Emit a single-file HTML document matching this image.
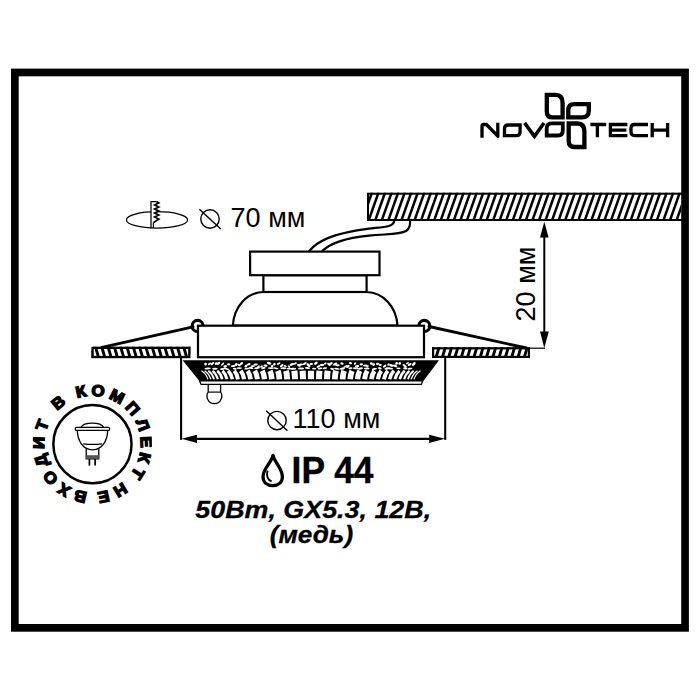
<!DOCTYPE html>
<html><head><meta charset="utf-8"><title>Novotech</title>
<style>
html,body{margin:0;padding:0;background:#fff;}
body{width:700px;height:700px;overflow:hidden;font-family:"Liberation Sans",sans-serif;}
svg{display:block;}
text{font-family:"Liberation Sans",sans-serif;fill:#000;}
</style></head><body>
<svg width="700" height="700" viewBox="0 0 700 700">
<rect x="0" y="0" width="700" height="700" fill="#fff"/>
<defs>
<clipPath id="cCeil"><rect x="367.1" y="192.8" width="314" height="28"/></clipPath>
<clipPath id="cFL"><rect x="91.5" y="346.7" width="98.9" height="11.3"/></clipPath>
<clipPath id="cFR"><rect x="432" y="347.2" width="98" height="10.5"/></clipPath>
<clipPath id="cRim"><path d="M184 361 L437.6 361 L423 380.4 L199.8 380.4 Z"/></clipPath>
<clipPath id="cBadge"><rect x="32.6" y="370" width="119.2" height="150"/></clipPath>
</defs>

<rect x="14.85" y="72.45" width="670.2" height="555.4" fill="none" stroke="#000" stroke-width="7.7"/>
<g clip-path="url(#cCeil)" stroke="#000" stroke-width="2.5" fill="none">
<line x1="355.00" y1="222" x2="365.60" y2="192"/>
<line x1="361.55" y1="222" x2="372.15" y2="192"/>
<line x1="368.10" y1="222" x2="378.70" y2="192"/>
<line x1="374.65" y1="222" x2="385.25" y2="192"/>
<line x1="381.20" y1="222" x2="391.80" y2="192"/>
<line x1="387.75" y1="222" x2="398.35" y2="192"/>
<line x1="394.30" y1="222" x2="404.90" y2="192"/>
<line x1="400.85" y1="222" x2="411.45" y2="192"/>
<line x1="407.40" y1="222" x2="418.00" y2="192"/>
<line x1="413.95" y1="222" x2="424.55" y2="192"/>
<line x1="420.50" y1="222" x2="431.10" y2="192"/>
<line x1="427.05" y1="222" x2="437.65" y2="192"/>
<line x1="433.60" y1="222" x2="444.20" y2="192"/>
<line x1="440.15" y1="222" x2="450.75" y2="192"/>
<line x1="446.70" y1="222" x2="457.30" y2="192"/>
<line x1="453.25" y1="222" x2="463.85" y2="192"/>
<line x1="459.80" y1="222" x2="470.40" y2="192"/>
<line x1="466.35" y1="222" x2="476.95" y2="192"/>
<line x1="472.90" y1="222" x2="483.50" y2="192"/>
<line x1="479.45" y1="222" x2="490.05" y2="192"/>
<line x1="486.00" y1="222" x2="496.60" y2="192"/>
<line x1="492.55" y1="222" x2="503.15" y2="192"/>
<line x1="499.10" y1="222" x2="509.70" y2="192"/>
<line x1="505.65" y1="222" x2="516.25" y2="192"/>
<line x1="512.20" y1="222" x2="522.80" y2="192"/>
<line x1="518.75" y1="222" x2="529.35" y2="192"/>
<line x1="525.30" y1="222" x2="535.90" y2="192"/>
<line x1="531.85" y1="222" x2="542.45" y2="192"/>
<line x1="538.40" y1="222" x2="549.00" y2="192"/>
<line x1="544.95" y1="222" x2="555.55" y2="192"/>
<line x1="551.50" y1="222" x2="562.10" y2="192"/>
<line x1="558.05" y1="222" x2="568.65" y2="192"/>
<line x1="564.60" y1="222" x2="575.20" y2="192"/>
<line x1="571.15" y1="222" x2="581.75" y2="192"/>
<line x1="577.70" y1="222" x2="588.30" y2="192"/>
<line x1="584.25" y1="222" x2="594.85" y2="192"/>
<line x1="590.80" y1="222" x2="601.40" y2="192"/>
<line x1="597.35" y1="222" x2="607.95" y2="192"/>
<line x1="603.90" y1="222" x2="614.50" y2="192"/>
<line x1="610.45" y1="222" x2="621.05" y2="192"/>
<line x1="617.00" y1="222" x2="627.60" y2="192"/>
<line x1="623.55" y1="222" x2="634.15" y2="192"/>
<line x1="630.10" y1="222" x2="640.70" y2="192"/>
<line x1="636.65" y1="222" x2="647.25" y2="192"/>
<line x1="643.20" y1="222" x2="653.80" y2="192"/>
<line x1="649.75" y1="222" x2="660.35" y2="192"/>
<line x1="656.30" y1="222" x2="666.90" y2="192"/>
<line x1="662.85" y1="222" x2="673.45" y2="192"/>
<line x1="669.40" y1="222" x2="680.00" y2="192"/>
<line x1="675.95" y1="222" x2="686.55" y2="192"/>
<line x1="682.50" y1="222" x2="693.10" y2="192"/>
<line x1="689.05" y1="222" x2="699.65" y2="192"/>
<line x1="695.60" y1="222" x2="706.20" y2="192"/>
</g>
<rect x="368" y="193.7" width="318" height="26.3" fill="none" stroke="#000" stroke-width="2"/>
<path d="M308.9 251.5 C318 240 335 233 369 228.6 C385 226.8 393 227 394.3 221" fill="none" stroke="#000" stroke-width="2.2"/>
<path d="M321.9 251.5 C330 243 345 238 369 235.6 C390 233.8 400 234.5 406 231 C410 228 410.1 225 410.1 221" fill="none" stroke="#000" stroke-width="2.2"/>
<circle cx="197.6" cy="325.9" r="5.5" fill="#fff" stroke="#000" stroke-width="3.1"/>
<circle cx="424.3" cy="325.9" r="5.5" fill="#fff" stroke="#000" stroke-width="3.1"/>
<line x1="193" y1="326.8" x2="102" y2="347.4" stroke="#000" stroke-width="2.9" stroke-linecap="round"/>
<line x1="429" y1="326.5" x2="526.5" y2="348" stroke="#000" stroke-width="2.9" stroke-linecap="round"/>
<g fill="#fff" stroke="#000" stroke-width="2.2" stroke-linejoin="miter">
<path d="M232.8 325.6 C234 306 247 292.5 263.4 292 L366.6 292 C383 292.5 396.3 306 397.5 325.6 Z"/>
<rect x="263.4" y="275.2" width="103.2" height="16.8"/>
<rect x="250.1" y="251.6" width="129.4" height="23.6"/>
<rect x="198" y="325.7" width="226" height="31.5"/>
</g>
<g clip-path="url(#cFL)" stroke="#000" stroke-width="2.9" fill="none">
<line x1="88.60" y1="345" x2="93.00" y2="360"/>
<line x1="94.90" y1="345" x2="99.30" y2="360"/>
<line x1="101.20" y1="345" x2="105.60" y2="360"/>
<line x1="107.50" y1="345" x2="111.90" y2="360"/>
<line x1="113.80" y1="345" x2="118.20" y2="360"/>
<line x1="120.10" y1="345" x2="124.50" y2="360"/>
<line x1="126.40" y1="345" x2="130.80" y2="360"/>
<line x1="132.70" y1="345" x2="137.10" y2="360"/>
<line x1="139.00" y1="345" x2="143.40" y2="360"/>
<line x1="145.30" y1="345" x2="149.70" y2="360"/>
<line x1="151.60" y1="345" x2="156.00" y2="360"/>
<line x1="157.90" y1="345" x2="162.30" y2="360"/>
<line x1="164.20" y1="345" x2="168.60" y2="360"/>
<line x1="170.50" y1="345" x2="174.90" y2="360"/>
<line x1="176.80" y1="345" x2="181.20" y2="360"/>
<line x1="183.10" y1="345" x2="187.50" y2="360"/>
<line x1="189.40" y1="345" x2="193.80" y2="360"/>
<line x1="195.70" y1="345" x2="200.10" y2="360"/>
</g>
<rect x="92.6" y="347.85" width="96.7" height="9.2" fill="none" stroke="#000" stroke-width="2.3"/>
<g clip-path="url(#cFR)" stroke="#000" stroke-width="2.9" fill="none">
<line x1="429.00" y1="360" x2="433.40" y2="345"/>
<line x1="435.30" y1="360" x2="439.70" y2="345"/>
<line x1="441.60" y1="360" x2="446.00" y2="345"/>
<line x1="447.90" y1="360" x2="452.30" y2="345"/>
<line x1="454.20" y1="360" x2="458.60" y2="345"/>
<line x1="460.50" y1="360" x2="464.90" y2="345"/>
<line x1="466.80" y1="360" x2="471.20" y2="345"/>
<line x1="473.10" y1="360" x2="477.50" y2="345"/>
<line x1="479.40" y1="360" x2="483.80" y2="345"/>
<line x1="485.70" y1="360" x2="490.10" y2="345"/>
<line x1="492.00" y1="360" x2="496.40" y2="345"/>
<line x1="498.30" y1="360" x2="502.70" y2="345"/>
<line x1="504.60" y1="360" x2="509.00" y2="345"/>
<line x1="510.90" y1="360" x2="515.30" y2="345"/>
<line x1="517.20" y1="360" x2="521.60" y2="345"/>
<line x1="523.50" y1="360" x2="527.90" y2="345"/>
<line x1="529.80" y1="360" x2="534.20" y2="345"/>
</g>
<rect x="433.1" y="348.3" width="95.8" height="8.6" fill="none" stroke="#000" stroke-width="2.2"/>
<path d="M182.6 360.2 L439 360.2 L423.4 381 L199.4 381 Z" fill="#000"/>
<g clip-path="url(#cRim)">
<ellipse cx="205.6" cy="364.1" rx="1.4" ry="1.3" transform="rotate(-37 205.6 364.1)" fill="#fff"/>
<ellipse cx="209.5" cy="363.8" rx="1.8" ry="0.9" transform="rotate(-37 209.5 363.8)" fill="#fff"/>
<ellipse cx="212.4" cy="363.6" rx="2.1" ry="1.1" transform="rotate(-39 212.4 363.6)" fill="#fff"/>
<ellipse cx="216.1" cy="363.6" rx="1.4" ry="1.3" transform="rotate(-19 216.1 363.6)" fill="#fff"/>
<ellipse cx="218.5" cy="363.3" rx="2.0" ry="1.2" transform="rotate(-36 218.5 363.3)" fill="#fff"/>
<ellipse cx="222.6" cy="364.1" rx="2.0" ry="0.9" transform="rotate(-40 222.6 364.1)" fill="#fff"/>
<ellipse cx="225.2" cy="366.4" rx="1.9" ry="1.3" transform="rotate(-12 225.2 366.4)" fill="#fff"/>
<ellipse cx="228.6" cy="364.4" rx="1.6" ry="1.1" transform="rotate(2 228.6 364.4)" fill="#fff"/>
<ellipse cx="233.2" cy="366.0" rx="2.5" ry="0.9" transform="rotate(-7 233.2 366.0)" fill="#fff"/>
<ellipse cx="236.2" cy="364.5" rx="1.8" ry="1.3" transform="rotate(-38 236.2 364.5)" fill="#fff"/>
<ellipse cx="239.1" cy="365.1" rx="1.7" ry="1.1" transform="rotate(27 239.1 365.1)" fill="#fff"/>
<ellipse cx="241.4" cy="363.6" rx="1.9" ry="1.2" transform="rotate(-40 241.4 363.6)" fill="#fff"/>
<ellipse cx="246.0" cy="366.0" rx="1.8" ry="1.2" transform="rotate(-43 246.0 366.0)" fill="#fff"/>
<ellipse cx="248.8" cy="364.3" rx="1.9" ry="1.0" transform="rotate(-19 248.8 364.3)" fill="#fff"/>
<ellipse cx="252.7" cy="366.1" rx="2.3" ry="0.9" transform="rotate(-5 252.7 366.1)" fill="#fff"/>
<ellipse cx="255.6" cy="364.5" rx="2.3" ry="1.0" transform="rotate(-8 255.6 364.5)" fill="#fff"/>
<ellipse cx="258.5" cy="366.6" rx="1.5" ry="0.9" transform="rotate(-24 258.5 366.6)" fill="#fff"/>
<ellipse cx="261.6" cy="366.5" rx="1.5" ry="1.0" transform="rotate(-32 261.6 366.5)" fill="#fff"/>
<ellipse cx="265.5" cy="365.6" rx="2.1" ry="1.1" transform="rotate(11 265.5 365.6)" fill="#fff"/>
<ellipse cx="269.1" cy="363.2" rx="2.3" ry="1.3" transform="rotate(16 269.1 363.2)" fill="#fff"/>
<ellipse cx="272.1" cy="366.1" rx="1.4" ry="1.2" transform="rotate(-39 272.1 366.1)" fill="#fff"/>
<ellipse cx="274.4" cy="364.2" rx="1.4" ry="1.2" transform="rotate(-36 274.4 364.2)" fill="#fff"/>
<ellipse cx="278.7" cy="363.6" rx="2.0" ry="0.9" transform="rotate(-26 278.7 363.6)" fill="#fff"/>
<ellipse cx="281.7" cy="365.6" rx="2.0" ry="1.1" transform="rotate(-35 281.7 365.6)" fill="#fff"/>
<ellipse cx="285.2" cy="366.2" rx="1.7" ry="0.9" transform="rotate(22 285.2 366.2)" fill="#fff"/>
<ellipse cx="289.0" cy="366.5" rx="1.5" ry="0.9" transform="rotate(41 289.0 366.5)" fill="#fff"/>
<ellipse cx="291.9" cy="364.4" rx="2.4" ry="1.2" transform="rotate(-18 291.9 364.4)" fill="#fff"/>
<ellipse cx="295.4" cy="363.4" rx="1.6" ry="1.0" transform="rotate(-30 295.4 363.4)" fill="#fff"/>
<ellipse cx="298.9" cy="365.3" rx="2.0" ry="1.2" transform="rotate(23 298.9 365.3)" fill="#fff"/>
<ellipse cx="301.1" cy="364.5" rx="2.2" ry="1.0" transform="rotate(2 301.1 364.5)" fill="#fff"/>
<ellipse cx="304.7" cy="363.6" rx="2.2" ry="1.1" transform="rotate(-28 304.7 363.6)" fill="#fff"/>
<ellipse cx="308.5" cy="365.2" rx="2.4" ry="1.3" transform="rotate(41 308.5 365.2)" fill="#fff"/>
<ellipse cx="311.3" cy="363.9" rx="1.9" ry="1.0" transform="rotate(-2 311.3 363.9)" fill="#fff"/>
<ellipse cx="315.9" cy="363.2" rx="2.1" ry="1.2" transform="rotate(-37 315.9 363.2)" fill="#fff"/>
<ellipse cx="318.5" cy="366.4" rx="2.2" ry="1.1" transform="rotate(-29 318.5 366.4)" fill="#fff"/>
<ellipse cx="322.1" cy="364.9" rx="2.4" ry="1.2" transform="rotate(-3 322.1 364.9)" fill="#fff"/>
<ellipse cx="325.3" cy="363.4" rx="1.5" ry="0.9" transform="rotate(-31 325.3 363.4)" fill="#fff"/>
<ellipse cx="328.9" cy="364.3" rx="2.0" ry="1.1" transform="rotate(39 328.9 364.3)" fill="#fff"/>
<ellipse cx="330.7" cy="363.8" rx="2.3" ry="1.2" transform="rotate(-36 330.7 363.8)" fill="#fff"/>
<ellipse cx="335.2" cy="364.1" rx="2.3" ry="1.3" transform="rotate(-26 335.2 364.1)" fill="#fff"/>
<ellipse cx="337.5" cy="365.2" rx="2.2" ry="1.0" transform="rotate(4 337.5 365.2)" fill="#fff"/>
<ellipse cx="342.0" cy="363.5" rx="1.7" ry="1.1" transform="rotate(8 342.0 363.5)" fill="#fff"/>
<ellipse cx="345.4" cy="366.5" rx="2.4" ry="0.9" transform="rotate(-31 345.4 366.5)" fill="#fff"/>
<ellipse cx="347.9" cy="366.4" rx="2.0" ry="1.2" transform="rotate(-32 347.9 366.4)" fill="#fff"/>
<ellipse cx="350.5" cy="363.2" rx="1.7" ry="1.1" transform="rotate(5 350.5 363.2)" fill="#fff"/>
<ellipse cx="355.1" cy="363.5" rx="1.4" ry="0.9" transform="rotate(-41 355.1 363.5)" fill="#fff"/>
<ellipse cx="357.0" cy="366.2" rx="2.2" ry="1.3" transform="rotate(-5 357.0 366.2)" fill="#fff"/>
<ellipse cx="361.3" cy="364.4" rx="1.8" ry="1.1" transform="rotate(-2 361.3 364.4)" fill="#fff"/>
<ellipse cx="365.3" cy="365.5" rx="2.4" ry="1.0" transform="rotate(-5 365.3 365.5)" fill="#fff"/>
<ellipse cx="367.5" cy="366.2" rx="1.4" ry="1.0" transform="rotate(-38 367.5 366.2)" fill="#fff"/>
<ellipse cx="371.3" cy="363.5" rx="1.5" ry="1.2" transform="rotate(14 371.3 363.5)" fill="#fff"/>
<ellipse cx="373.6" cy="364.6" rx="1.6" ry="1.3" transform="rotate(-9 373.6 364.6)" fill="#fff"/>
<ellipse cx="377.6" cy="363.9" rx="1.8" ry="1.1" transform="rotate(-14 377.6 363.9)" fill="#fff"/>
<ellipse cx="380.3" cy="364.9" rx="1.7" ry="1.0" transform="rotate(-4 380.3 364.9)" fill="#fff"/>
<ellipse cx="384.6" cy="366.1" rx="2.0" ry="1.1" transform="rotate(-39 384.6 366.1)" fill="#fff"/>
<ellipse cx="388.5" cy="364.6" rx="1.4" ry="1.0" transform="rotate(-41 388.5 364.6)" fill="#fff"/>
<ellipse cx="391.4" cy="365.4" rx="2.3" ry="1.3" transform="rotate(16 391.4 365.4)" fill="#fff"/>
<ellipse cx="395.0" cy="365.9" rx="2.4" ry="1.1" transform="rotate(18 395.0 365.9)" fill="#fff"/>
<ellipse cx="396.6" cy="363.4" rx="1.5" ry="1.3" transform="rotate(-21 396.6 363.4)" fill="#fff"/>
<ellipse cx="399.7" cy="363.4" rx="1.4" ry="1.3" transform="rotate(-39 399.7 363.4)" fill="#fff"/>
<ellipse cx="404.7" cy="365.8" rx="2.5" ry="1.1" transform="rotate(37 404.7 365.8)" fill="#fff"/>
<ellipse cx="407.5" cy="363.2" rx="1.6" ry="0.9" transform="rotate(-30 407.5 363.2)" fill="#fff"/>
<ellipse cx="409.7" cy="364.5" rx="2.1" ry="1.1" transform="rotate(-26 409.7 364.5)" fill="#fff"/>
<ellipse cx="413.8" cy="364.0" rx="2.3" ry="1.3" transform="rotate(-42 413.8 364.0)" fill="#fff"/>
<ellipse cx="207.6" cy="368.5" rx="3.2" ry="1.0" transform="rotate(-6 207.6 368.5)" fill="#fff"/>
<ellipse cx="214.9" cy="368.7" rx="2.8" ry="1.0" transform="rotate(1 214.9 368.7)" fill="#fff"/>
<ellipse cx="222.4" cy="369.0" rx="2.4" ry="0.9" transform="rotate(-6 222.4 369.0)" fill="#fff"/>
<ellipse cx="226.4" cy="368.9" rx="2.9" ry="0.8" transform="rotate(12 226.4 368.9)" fill="#fff"/>
<ellipse cx="234.8" cy="368.8" rx="2.0" ry="1.0" transform="rotate(9 234.8 368.8)" fill="#fff"/>
<ellipse cx="239.3" cy="368.1" rx="2.8" ry="0.9" transform="rotate(0 239.3 368.1)" fill="#fff"/>
<ellipse cx="247.0" cy="368.6" rx="2.8" ry="0.8" transform="rotate(-8 247.0 368.6)" fill="#fff"/>
<ellipse cx="251.0" cy="368.0" rx="2.4" ry="0.9" transform="rotate(12 251.0 368.0)" fill="#fff"/>
<ellipse cx="257.3" cy="368.0" rx="3.1" ry="0.9" transform="rotate(-8 257.3 368.0)" fill="#fff"/>
<ellipse cx="263.4" cy="368.1" rx="2.3" ry="1.0" transform="rotate(-6 263.4 368.1)" fill="#fff"/>
<ellipse cx="270.8" cy="368.1" rx="3.0" ry="0.8" transform="rotate(2 270.8 368.1)" fill="#fff"/>
<ellipse cx="275.8" cy="368.3" rx="2.8" ry="0.8" transform="rotate(11 275.8 368.3)" fill="#fff"/>
<ellipse cx="283.3" cy="368.2" rx="3.1" ry="1.0" transform="rotate(2 283.3 368.2)" fill="#fff"/>
<ellipse cx="289.1" cy="368.7" rx="2.6" ry="0.9" transform="rotate(3 289.1 368.7)" fill="#fff"/>
<ellipse cx="293.3" cy="368.8" rx="2.9" ry="1.0" transform="rotate(-2 293.3 368.8)" fill="#fff"/>
<ellipse cx="301.1" cy="368.5" rx="3.1" ry="1.0" transform="rotate(2 301.1 368.5)" fill="#fff"/>
<ellipse cx="307.5" cy="368.0" rx="2.8" ry="1.0" transform="rotate(5 307.5 368.0)" fill="#fff"/>
<ellipse cx="314.1" cy="368.6" rx="2.1" ry="0.8" transform="rotate(3 314.1 368.6)" fill="#fff"/>
<ellipse cx="320.2" cy="368.4" rx="2.5" ry="0.8" transform="rotate(-12 320.2 368.4)" fill="#fff"/>
<ellipse cx="325.0" cy="368.2" rx="2.3" ry="0.9" transform="rotate(-10 325.0 368.2)" fill="#fff"/>
<ellipse cx="332.3" cy="368.9" rx="2.1" ry="1.0" transform="rotate(6 332.3 368.9)" fill="#fff"/>
<ellipse cx="337.0" cy="368.8" rx="3.0" ry="0.9" transform="rotate(6 337.0 368.8)" fill="#fff"/>
<ellipse cx="342.4" cy="368.6" rx="2.6" ry="1.1" transform="rotate(-10 342.4 368.6)" fill="#fff"/>
<ellipse cx="350.5" cy="368.3" rx="2.1" ry="1.0" transform="rotate(-7 350.5 368.3)" fill="#fff"/>
<ellipse cx="355.7" cy="368.3" rx="2.8" ry="1.0" transform="rotate(3 355.7 368.3)" fill="#fff"/>
<ellipse cx="360.4" cy="368.5" rx="2.6" ry="1.1" transform="rotate(-10 360.4 368.5)" fill="#fff"/>
<ellipse cx="366.8" cy="368.5" rx="2.9" ry="0.9" transform="rotate(-1 366.8 368.5)" fill="#fff"/>
<ellipse cx="374.5" cy="369.0" rx="2.7" ry="0.9" transform="rotate(-10 374.5 369.0)" fill="#fff"/>
<ellipse cx="379.7" cy="368.3" rx="2.1" ry="1.0" transform="rotate(12 379.7 368.3)" fill="#fff"/>
<ellipse cx="387.4" cy="368.4" rx="3.1" ry="1.1" transform="rotate(-10 387.4 368.4)" fill="#fff"/>
<ellipse cx="390.8" cy="368.7" rx="2.3" ry="0.9" transform="rotate(2 390.8 368.7)" fill="#fff"/>
<ellipse cx="398.5" cy="368.3" rx="2.1" ry="0.9" transform="rotate(-0 398.5 368.3)" fill="#fff"/>
<ellipse cx="405.3" cy="368.4" rx="2.2" ry="1.1" transform="rotate(4 405.3 368.4)" fill="#fff"/>
<ellipse cx="410.0" cy="368.7" rx="2.5" ry="0.9" transform="rotate(-9 410.0 368.7)" fill="#fff"/>
<path d="M201.5 370.8 Q206.4 374 208.0 379.3" stroke="#fff" stroke-width="1.1" fill="none" stroke-linecap="butt"/>
<path d="M204.6 370.8 Q209.2 374 210.8 379.3" stroke="#fff" stroke-width="1.4" fill="none" stroke-linecap="butt"/>
<path d="M208.3 370.8 Q212.6 374 214.1 379.3" stroke="#fff" stroke-width="1.8" fill="none" stroke-linecap="butt"/>
<path d="M212.5 370.8 Q216.5 374 217.9 379.3" stroke="#fff" stroke-width="2.2" fill="none" stroke-linecap="butt"/>
<path d="M217.3 370.8 Q221.0 374 222.2 379.3" stroke="#fff" stroke-width="2.6" fill="none" stroke-linecap="butt"/>
<path d="M222.5 370.8 Q225.9 374 227.0 379.3" stroke="#fff" stroke-width="3.0" fill="none" stroke-linecap="butt"/>
<path d="M228.1 370.8 Q231.3 374 232.3 379.3" stroke="#fff" stroke-width="3.5" fill="none" stroke-linecap="butt"/>
<path d="M234.2 370.8 Q237.1 374 238.0 379.3" stroke="#fff" stroke-width="3.9" fill="none" stroke-linecap="butt"/>
<path d="M240.7 370.8 Q243.3 374 244.1 379.3" stroke="#fff" stroke-width="4.2" fill="none" stroke-linecap="butt"/>
<path d="M247.6 370.8 Q249.9 374 250.6 379.3" stroke="#fff" stroke-width="4.6" fill="none" stroke-linecap="butt"/>
<path d="M254.8 370.8 Q256.8 374 257.4 379.3" stroke="#fff" stroke-width="5.0" fill="none" stroke-linecap="butt"/>
<path d="M262.2 370.8 Q264.0 374 264.5 379.3" stroke="#fff" stroke-width="5.3" fill="none" stroke-linecap="butt"/>
<path d="M270.0 370.8 Q271.4 374 271.9 379.3" stroke="#fff" stroke-width="5.5" fill="none" stroke-linecap="butt"/>
<path d="M277.9 370.8 Q279.1 374 279.4 379.3" stroke="#fff" stroke-width="5.7" fill="none" stroke-linecap="butt"/>
<path d="M286.0 370.8 Q286.9 374 287.2 379.3" stroke="#fff" stroke-width="5.9" fill="none" stroke-linecap="butt"/>
<path d="M294.3 370.8 Q294.9 374 295.0 379.3" stroke="#fff" stroke-width="6.1" fill="none" stroke-linecap="butt"/>
<path d="M302.6 370.8 Q302.9 374 303.0 379.3" stroke="#fff" stroke-width="6.1" fill="none" stroke-linecap="butt"/>
<path d="M311.0 370.8 Q311.0 374 311.0 379.3" stroke="#fff" stroke-width="6.2" fill="none" stroke-linecap="butt"/>
<path d="M319.4 370.8 Q319.1 374 319.0 379.3" stroke="#fff" stroke-width="6.1" fill="none" stroke-linecap="butt"/>
<path d="M327.7 370.8 Q327.1 374 327.0 379.3" stroke="#fff" stroke-width="6.1" fill="none" stroke-linecap="butt"/>
<path d="M336.0 370.8 Q335.1 374 334.8 379.3" stroke="#fff" stroke-width="5.9" fill="none" stroke-linecap="butt"/>
<path d="M344.1 370.8 Q342.9 374 342.6 379.3" stroke="#fff" stroke-width="5.7" fill="none" stroke-linecap="butt"/>
<path d="M352.0 370.8 Q350.6 374 350.1 379.3" stroke="#fff" stroke-width="5.5" fill="none" stroke-linecap="butt"/>
<path d="M359.8 370.8 Q358.0 374 357.5 379.3" stroke="#fff" stroke-width="5.3" fill="none" stroke-linecap="butt"/>
<path d="M367.2 370.8 Q365.2 374 364.6 379.3" stroke="#fff" stroke-width="5.0" fill="none" stroke-linecap="butt"/>
<path d="M374.4 370.8 Q372.1 374 371.4 379.3" stroke="#fff" stroke-width="4.6" fill="none" stroke-linecap="butt"/>
<path d="M381.3 370.8 Q378.7 374 377.9 379.3" stroke="#fff" stroke-width="4.2" fill="none" stroke-linecap="butt"/>
<path d="M387.8 370.8 Q384.9 374 384.0 379.3" stroke="#fff" stroke-width="3.9" fill="none" stroke-linecap="butt"/>
<path d="M393.9 370.8 Q390.7 374 389.7 379.3" stroke="#fff" stroke-width="3.5" fill="none" stroke-linecap="butt"/>
<path d="M399.5 370.8 Q396.1 374 395.0 379.3" stroke="#fff" stroke-width="3.0" fill="none" stroke-linecap="butt"/>
<path d="M404.7 370.8 Q401.0 374 399.8 379.3" stroke="#fff" stroke-width="2.6" fill="none" stroke-linecap="butt"/>
<path d="M409.5 370.8 Q405.5 374 404.1 379.3" stroke="#fff" stroke-width="2.2" fill="none" stroke-linecap="butt"/>
<path d="M413.7 370.8 Q409.4 374 407.9 379.3" stroke="#fff" stroke-width="1.8" fill="none" stroke-linecap="butt"/>
<path d="M417.4 370.8 Q412.8 374 411.2 379.3" stroke="#fff" stroke-width="1.4" fill="none" stroke-linecap="butt"/>
<path d="M420.5 370.8 Q415.6 374 414.0 379.3" stroke="#fff" stroke-width="1.1" fill="none" stroke-linecap="butt"/>
</g>
<path d="M208.2 384.3 L208.2 392 C205.5 396 207.5 403.6 214.4 403.6 C221.3 403.6 223.3 396 220.6 392 L220.6 384.3" fill="#fff" stroke="#000" stroke-width="1.3"/>
<line x1="208.2" y1="392.1" x2="220.6" y2="392.1" stroke="#000" stroke-width="1.2"/>
<path d="M199.6 381 L422.6 381 L421.4 384.3 L201 384.3 Z" fill="#fff" stroke="#000" stroke-width="1.2"/>
<g stroke="#000" stroke-width="2.1" fill="none">
<line x1="181.1" y1="357" x2="181.1" y2="439.9"/>
<line x1="445.2" y1="357" x2="445.2" y2="439.9"/>
<line x1="190" y1="438.8" x2="436" y2="438.8" stroke-width="2.2"/>
</g>
<path d="M181.6 438.8 L197 434.8 L197 442.9 Z" fill="#000"/>
<path d="M444.8 438.8 L429.2 434.8 L429.2 442.9 Z" fill="#000"/>
<g stroke="#000" stroke-width="2" fill="none">
<line x1="544.3" y1="230" x2="544.3" y2="340"/>
<line x1="529" y1="348.2" x2="545" y2="348.2" stroke-width="1.2"/>
</g>
<path d="M544.3 221.8 L540 237.6 L548.6 237.6 Z" fill="#000"/>
<path d="M544.3 348 L540 331.4 L548.8 331.4 Z" fill="#000"/>
<text x="230.6" y="227" font-size="27">70 мм</text>
<text x="292.6" y="427.8" font-size="27">110 мм</text>
<text transform="translate(534.8 321.4) rotate(-90)" font-size="27">20 мм</text>
<text transform="translate(291.6 482.6) scale(0.945 1)" font-size="37.4" font-weight="bold" stroke="#000" stroke-width="0.4">IP 44</text>
<text transform="translate(313.2 517.6) scale(1.092 1)" font-size="24.6" font-weight="bold" font-style="italic" text-anchor="middle" stroke="#000" stroke-width="0.3">50Bm, GX5.3, 12B,</text>
<text transform="translate(311.4 543.2) scale(1.065 1)" font-size="24.6" font-weight="bold" font-style="italic" text-anchor="middle" stroke="#000" stroke-width="0.3">(медь)</text>
<g stroke="#000" stroke-width="1.4" fill="none">
<circle cx="210" cy="219" r="9.2"/><line x1="199.4" y1="209.2" x2="220.8" y2="229"/>
<circle cx="277" cy="420.6" r="9.2"/><line x1="266.2" y1="410.8" x2="287.4" y2="430.8"/>
</g>
<g stroke="#000" stroke-width="1.25" fill="none">
<ellipse cx="157" cy="219.9" rx="30.6" ry="8.2"/>
<path d="M151 227 L151 201.5 L156.6 201.5 L156.6 220 L153.4 222.4 L153.4 227 Z" fill="#fff" stroke="none"/>
<path d="M151 228.2 L151 201.5 L156.6 201.5 M153.4 222.4 L153.4 228.2" />
<path d="M156.4 201.5 L158.8 203 L154.6 205 L158.8 207 L154.6 209 L158.8 211 L154.6 213 L158.8 215 L154.6 217 L158.8 219 L153.4 222.6" stroke-width="1.7" stroke-linejoin="miter"/>
</g>
<path d="M273 455.4 C271.6 462.5 263 468.5 263 476.8 C263 482.4 267.2 485.6 272.7 485.6 C278.2 485.6 282.4 482.4 282.4 476.8 C282.4 468.5 274.6 462.5 273 455.4 Z" fill="#fff" stroke="#000" stroke-width="3.3" stroke-linejoin="round"/>
<path d="M267.6 470.6 C266 475.6 267.6 480 271.6 481.4" fill="none" stroke="#000" stroke-width="1.9"/>
<circle cx="92.45" cy="444.15" r="39.1" fill="none" stroke="#000" stroke-width="2.5"/>
<g clip-path="url(#cBadge)">
<text transform="translate(92.45 444.15) rotate(148.7) translate(0 -48.3) scale(1.07 1)" font-size="15.8" font-weight="bold" text-anchor="middle" stroke="#000" stroke-width="1.4" stroke-linejoin="miter">Н</text>
<text transform="translate(92.45 444.15) rotate(168) translate(0 -48.3) scale(1.07 1)" font-size="15.8" font-weight="bold" text-anchor="middle" stroke="#000" stroke-width="1.4" stroke-linejoin="miter">Е</text>
<text transform="translate(92.45 444.15) rotate(193) translate(0 -48.3) scale(1.07 1)" font-size="15.8" font-weight="bold" text-anchor="middle" stroke="#000" stroke-width="1.4" stroke-linejoin="miter">В</text>
<text transform="translate(92.45 444.15) rotate(211.75) translate(0 -48.3) scale(1.07 1)" font-size="15.8" font-weight="bold" text-anchor="middle" stroke="#000" stroke-width="1.4" stroke-linejoin="miter">Х</text>
<text transform="translate(92.45 444.15) rotate(231.3) translate(0 -48.3) scale(1.07 1)" font-size="15.8" font-weight="bold" text-anchor="middle" stroke="#000" stroke-width="1.4" stroke-linejoin="miter">О</text>
<text transform="translate(92.45 444.15) rotate(252) translate(0 -48.3) scale(1.07 1)" font-size="15.8" font-weight="bold" text-anchor="middle" stroke="#000" stroke-width="1.4" stroke-linejoin="miter">Д</text>
<text transform="translate(92.45 444.15) rotate(271.4) translate(0 -48.3) scale(1.07 1)" font-size="15.8" font-weight="bold" text-anchor="middle" stroke="#000" stroke-width="1.4" stroke-linejoin="miter">И</text>
<text transform="translate(92.45 444.15) rotate(290.5) translate(0 -48.3) scale(1.07 1)" font-size="15.8" font-weight="bold" text-anchor="middle" stroke="#000" stroke-width="1.4" stroke-linejoin="miter">Т</text>
<text transform="translate(92.45 444.15) rotate(320.6) translate(0 -48.3) scale(1.07 1)" font-size="15.8" font-weight="bold" text-anchor="middle" stroke="#000" stroke-width="1.4" stroke-linejoin="miter">В</text>
<text transform="translate(92.45 444.15) rotate(347.7) translate(0 -48.3) scale(1.07 1)" font-size="15.8" font-weight="bold" text-anchor="middle" stroke="#000" stroke-width="1.4" stroke-linejoin="miter">К</text>
<text transform="translate(92.45 444.15) rotate(5.9) translate(0 -48.3) scale(1.07 1)" font-size="15.8" font-weight="bold" text-anchor="middle" stroke="#000" stroke-width="1.4" stroke-linejoin="miter">О</text>
<text transform="translate(92.45 444.15) rotate(27.2) translate(0 -48.3) scale(1.07 1)" font-size="15.8" font-weight="bold" text-anchor="middle" stroke="#000" stroke-width="1.4" stroke-linejoin="miter">М</text>
<text transform="translate(92.45 444.15) rotate(48.5) translate(0 -48.3) scale(1.07 1)" font-size="15.8" font-weight="bold" text-anchor="middle" stroke="#000" stroke-width="1.4" stroke-linejoin="miter">П</text>
<text transform="translate(92.45 444.15) rotate(68.9) translate(0 -48.3) scale(1.07 1)" font-size="15.8" font-weight="bold" text-anchor="middle" stroke="#000" stroke-width="1.4" stroke-linejoin="miter">Л</text>
<text transform="translate(92.45 444.15) rotate(87.5) translate(0 -48.3) scale(1.07 1)" font-size="15.8" font-weight="bold" text-anchor="middle" stroke="#000" stroke-width="1.4" stroke-linejoin="miter">Е</text>
<text transform="translate(92.45 444.15) rotate(104.7) translate(0 -48.3) scale(1.07 1)" font-size="15.8" font-weight="bold" text-anchor="middle" stroke="#000" stroke-width="1.4" stroke-linejoin="miter">К</text>
<text transform="translate(92.45 444.15) rotate(122.7) translate(0 -48.3) scale(1.07 1)" font-size="15.8" font-weight="bold" text-anchor="middle" stroke="#000" stroke-width="1.4" stroke-linejoin="miter">Т</text>
</g>
<g stroke="#000" stroke-width="1.3" fill="#fff" stroke-linejoin="round">
<path d="M80.9 427.3 C84 421.8 100.6 421.8 103.6 427.3"/>
<path d="M86.2 448.4 L86.2 458.9 L98.8 458.9 L98.8 448.4"/>
<path d="M77.2 430.4 C77.8 440 82 449.8 92.5 449.8 C103 449.8 107.2 440 107.8 430.4 Z"/>
<path d="M83.2 443.9 Q92.5 445 102 443.9" fill="none"/>
<rect x="75.3" y="427.3" width="34.3" height="3.1" rx="1.2"/>
<rect x="86.2" y="455.2" width="12.6" height="3.6" fill="#555" stroke="none"/>
<line x1="89.4" y1="459" x2="89.4" y2="465.6" stroke-width="1.7"/>
<line x1="95.1" y1="459" x2="95.1" y2="465.6" stroke-width="1.7"/>
</g>
<g fill="none" stroke="#000" stroke-width="3.3" stroke-linejoin="miter">
<path d="M482 137.8 L482 126.2 Q482 124.5 483.8 124.5 L486.4 124.5 L497.8 136.2 L497.8 122.8" stroke-linejoin="round"/>
<path d="M508.4 125 L520.1 125 L520.1 132 Q520.1 135.6 516.4 135.6 L504.5 135.6 L504.5 128.6 Q504.5 125 508.4 125 Z"/>
<path d="M524.6 122.9 L534.4 136.4 L544 122.9" stroke-width="3.5"/>
<path d="M590.4 124.5 L606.2 124.5 M597.4 124.5 L597.4 137.3"/>
<path d="M627.4 124.5 L610.4 124.5 L610.4 135.6 L627.4 135.6 M610.4 130.05 L626.4 130.05"/>
<path d="M648 124.5 L634.6 124.5 Q631 124.5 631 128 L631 132.1 Q631 135.6 634.6 135.6 L648 135.6"/>
<path d="M652.2 122.9 L652.2 137.3 M667.6 122.9 L667.6 137.3 M652.2 130.05 L667.6 130.05"/>
</g>
<g fill="none" stroke="#000" stroke-width="4.3" stroke-linejoin="miter">
<path d="M551.7 123.4 L562.8 123.4 L562.8 130.5 Q562.8 135.5 557.8 135.5 L546.7 135.5 L546.7 128.4 Q546.7 123.4 551.7 123.4 Z" stroke-width="3.8"/>
<path d="M546.8 94.9 L555.6 94.9 Q562.6 94.9 562.6 102.9 L562.6 117.4 L552.8 117.4 Q546.8 117.4 546.8 111.4 Z"/>
<path d="M574.3 104.1 L588.8 104.1 L588.8 110.4 Q588.8 117.4 581.8 117.4 L568.3 117.4 L568.3 110.1 Q568.3 104.1 574.3 104.1 Z"/>
<path d="M568.7 123.5 L577.4 123.5 Q584.4 123.5 584.4 131.5 L584.4 147 L574.7 147 Q568.7 147 568.7 141 Z"/>
</g>
</svg></body></html>
